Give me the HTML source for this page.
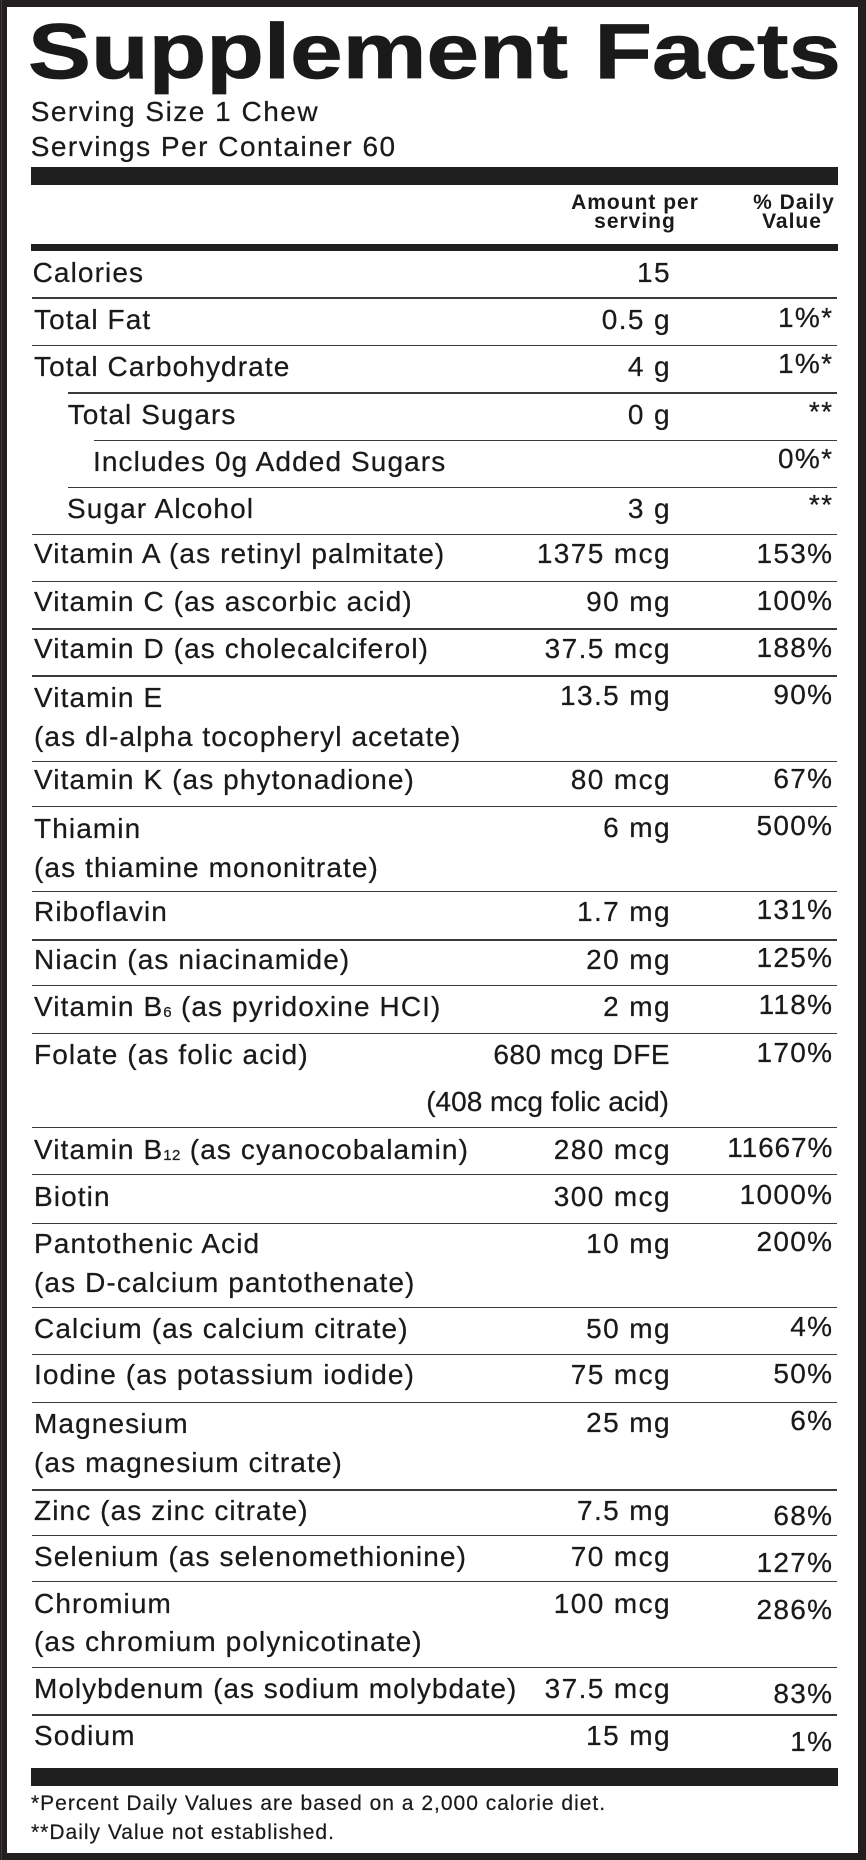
<!DOCTYPE html>
<html>
<head>
<meta charset="utf-8">
<style>
html,body{margin:0;padding:0;}
body{width:866px;height:1860px;position:relative;overflow:hidden;background:#231f20;font-family:"Liberation Sans",Arial,sans-serif;color:#1a1a1a;}
.red{position:absolute;left:1px;top:0;width:1px;height:1860px;background:#7a2424;}
.inner{position:absolute;left:7px;top:7px;width:851px;height:1846px;background:#fff;}
.t{position:absolute;font-size:28px;line-height:28px;white-space:nowrap;letter-spacing:1.1px;-webkit-text-stroke:0.25px #1a1a1a;}
.n{left:34px;}
.a{right:195px;text-align:right;letter-spacing:1.4px;}
.p{right:32.7px;text-align:right;letter-spacing:1.3px;}
.ln{position:absolute;left:31.7px;width:805.3px;height:1.4px;background:#3a3a3a;}
.bar{position:absolute;left:31px;width:806.5px;background:#1f1f1f;}
.h{position:absolute;font-size:21px;line-height:21px;font-weight:bold;white-space:nowrap;letter-spacing:1px;text-align:center;}
.f{position:absolute;left:31px;font-size:21px;line-height:21px;white-space:nowrap;letter-spacing:1px;-webkit-text-stroke:0.2px #1a1a1a;}
sub{font-size:15px;vertical-align:-1px;letter-spacing:0.5px;}
</style>
</head>
<body>
<div class="red"></div>
<div class="inner"></div>

<div style="position:absolute;left:28px;top:12px;font-size:78px;line-height:78px;font-weight:bold;white-space:nowrap;transform:scaleX(1.21);transform-origin:0 0;-webkit-text-stroke:0.8px #1a1a1a;">Supplement Facts</div>

<div class="t" style="left:30.7px;top:98px;letter-spacing:1.5px;">Serving Size 1 Chew</div>
<div class="t" style="left:30.7px;top:133px;letter-spacing:1.5px;">Servings Per Container 60</div>

<div class="bar" style="top:167px;height:18px;"></div>

<div class="h" style="left:555px;width:160px;top:192.2px;">Amount per</div>
<div class="h" style="left:555px;width:160px;top:210.7px;">serving</div>
<div class="h" style="left:734px;width:120px;top:192.2px;">% Daily</div>
<div class="h" style="left:732px;width:120px;top:210.7px;">Value</div>

<div class="bar" style="top:244px;height:7px;"></div>

<!-- lines -->
<div class="ln" style="top:297.3px;"></div>
<div class="ln" style="top:344.8px;"></div>
<div class="ln" style="top:392.3px;left:67.7px;width:769.3px;"></div>
<div class="ln" style="top:439.8px;left:94.3px;width:742.7px;"></div>
<div class="ln" style="top:486.6px;left:67.7px;width:769.3px;"></div>
<div class="ln" style="top:533.6px;"></div>
<div class="ln" style="top:581px;"></div>
<div class="ln" style="top:628.3px;"></div>
<div class="ln" style="top:675.3px;"></div>
<div class="ln" style="top:761px;"></div>
<div class="ln" style="top:806px;"></div>
<div class="ln" style="top:891px;"></div>
<div class="ln" style="top:939.3px;"></div>
<div class="ln" style="top:985px;"></div>
<div class="ln" style="top:1032.6px;"></div>
<div class="ln" style="top:1127px;"></div>
<div class="ln" style="top:1173.6px;"></div>
<div class="ln" style="top:1222.6px;"></div>
<div class="ln" style="top:1307px;"></div>
<div class="ln" style="top:1353.6px;"></div>
<div class="ln" style="top:1402px;"></div>
<div class="ln" style="top:1489.3px;"></div>
<div class="ln" style="top:1535px;"></div>
<div class="ln" style="top:1581px;"></div>
<div class="ln" style="top:1667px;"></div>
<div class="ln" style="top:1714.3px;"></div>

<!-- Calories -->
<div class="t n" style="left:32.6px;top:259.3px;">Calories</div>
<div class="t a" style="top:259.3px;">15</div>

<div class="t n" style="top:306.3px;">Total Fat</div>
<div class="t a" style="top:306.3px;">0.5 g</div>
<div class="t p" style="top:304.3px;">1%*</div>

<div class="t n" style="top:353.3px;">Total Carbohydrate</div>
<div class="t a" style="top:353.3px;">4 g</div>
<div class="t p" style="top:349.8px;">1%*</div>

<div class="t" style="left:67.7px;top:400.8px;">Total Sugars</div>
<div class="t a" style="top:400.8px;">0 g</div>
<div class="t p" style="top:398px;">**</div>

<div class="t" style="left:93px;top:447.8px;">Includes 0g Added Sugars</div>
<div class="t p" style="top:444.6px;">0%*</div>

<div class="t" style="left:67px;top:495.3px;">Sugar Alcohol</div>
<div class="t a" style="top:495.3px;">3 g</div>
<div class="t p" style="top:491.3px;">**</div>

<div class="t n" style="top:540.3px;">Vitamin A (as retinyl palmitate)</div>
<div class="t a" style="top:540.3px;">1375 mcg</div>
<div class="t p" style="top:540.3px;">153%</div>

<div class="t n" style="top:587.8px;">Vitamin C (as ascorbic acid)</div>
<div class="t a" style="top:587.8px;">90 mg</div>
<div class="t p" style="top:587.3px;">100%</div>

<div class="t n" style="top:635.3px;">Vitamin D (as cholecalciferol)</div>
<div class="t a" style="top:635.3px;">37.5 mcg</div>
<div class="t p" style="top:634.3px;">188%</div>

<div class="t n" style="top:683.5px;">Vitamin E</div>
<div class="t n" style="top:723px;">(as dl-alpha tocopheryl acetate)</div>
<div class="t a" style="top:682px;">13.5 mg</div>
<div class="t p" style="top:680.5px;">90%</div>

<div class="t n" style="top:766.3px;">Vitamin K (as phytonadione)</div>
<div class="t a" style="top:766.3px;">80 mcg</div>
<div class="t p" style="top:764.8px;">67%</div>

<div class="t n" style="top:814.5px;">Thiamin</div>
<div class="t n" style="top:853.5px;">(as thiamine mononitrate)</div>
<div class="t a" style="top:814px;">6 mg</div>
<div class="t p" style="top:812.3px;">500%</div>

<div class="t n" style="top:898px;">Riboflavin</div>
<div class="t a" style="top:898px;">1.7 mg</div>
<div class="t p" style="top:896.3px;">131%</div>

<div class="t n" style="top:945.6px;">Niacin (as niacinamide)</div>
<div class="t a" style="top:945.6px;">20 mg</div>
<div class="t p" style="top:943.8px;">125%</div>

<div class="t n" style="top:993.3px;">Vitamin B<sub>6</sub> (as pyridoxine HCI)</div>
<div class="t a" style="top:993.3px;">2 mg</div>
<div class="t p" style="top:991.3px;">118%</div>

<div class="t n" style="top:1041.3px;">Folate (as folic acid)</div>
<div class="t a" style="top:1041.3px;letter-spacing:0.5px;right:196px;">680 mcg DFE</div>
<div class="t a" style="top:1088px;letter-spacing:0;right:197px;">(408 mcg folic acid)</div>
<div class="t p" style="top:1039.3px;">170%</div>

<div class="t n" style="top:1135.8px;">Vitamin B<sub>12</sub> (as cyanocobalamin)</div>
<div class="t a" style="top:1135.8px;">280 mcg</div>
<div class="t p" style="top:1133.8px;letter-spacing:0.9px;">11667%</div>

<div class="t n" style="top:1183px;">Biotin</div>
<div class="t a" style="top:1183px;">300 mcg</div>
<div class="t p" style="top:1181.3px;">1000%</div>

<div class="t n" style="top:1229.6px;">Pantothenic Acid</div>
<div class="t n" style="top:1268.5px;">(as D-calcium pantothenate)</div>
<div class="t a" style="top:1229.6px;">10 mg</div>
<div class="t p" style="top:1227.8px;">200%</div>

<div class="t n" style="top:1314.6px;">Calcium (as calcium citrate)</div>
<div class="t a" style="top:1314.6px;">50 mg</div>
<div class="t p" style="top:1313.3px;">4%</div>

<div class="t n" style="top:1361.3px;">Iodine (as potassium iodide)</div>
<div class="t a" style="top:1361.3px;">75 mcg</div>
<div class="t p" style="top:1359.8px;">50%</div>

<div class="t n" style="top:1409.5px;">Magnesium</div>
<div class="t n" style="top:1448.5px;">(as magnesium citrate)</div>
<div class="t a" style="top:1409px;">25 mg</div>
<div class="t p" style="top:1407.3px;">6%</div>

<div class="t n" style="top:1497px;">Zinc (as zinc citrate)</div>
<div class="t a" style="top:1497px;">7.5 mg</div>
<div class="t p" style="top:1502px;">68%</div>

<div class="t n" style="top:1543px;">Selenium (as selenomethionine)</div>
<div class="t a" style="top:1543px;">70 mcg</div>
<div class="t p" style="top:1548.5px;">127%</div>

<div class="t n" style="top:1590px;">Chromium</div>
<div class="t n" style="top:1628px;">(as chromium polynicotinate)</div>
<div class="t a" style="top:1590px;">100 mcg</div>
<div class="t p" style="top:1596px;">286%</div>

<div class="t n" style="top:1674.5px;letter-spacing:1px;">Molybdenum (as sodium molybdate)</div>
<div class="t a" style="top:1674.5px;">37.5 mcg</div>
<div class="t p" style="top:1680px;">83%</div>

<div class="t n" style="top:1722px;">Sodium</div>
<div class="t a" style="top:1722px;">15 mg</div>
<div class="t p" style="top:1727.5px;">1%</div>

<div class="bar" style="top:1768px;height:18px;"></div>

<div class="f" style="top:1793.2px;">*Percent Daily Values are based on a 2,000 calorie diet.</div>
<div class="f" style="top:1821.7px;">**Daily Value not established.</div>
</body>
</html>
